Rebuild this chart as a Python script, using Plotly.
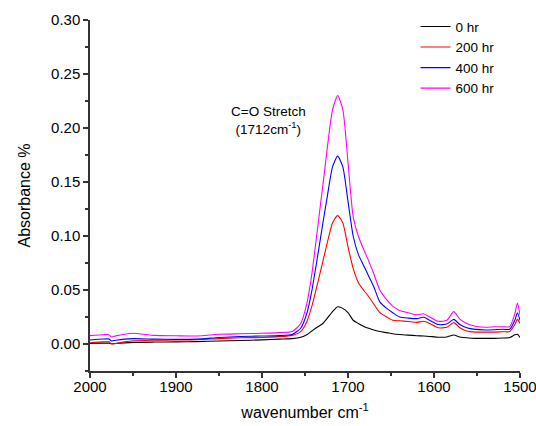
import plotly.graph_objects as go

wavenumber = [2000, 1985, 1978, 1975, 1970, 1960, 1950, 1925, 1900, 1875, 1850, 1825, 1800,
              1780, 1765, 1755, 1748, 1742, 1736, 1730, 1724, 1718, 1712, 1706, 1700, 1694,
              1688, 1682, 1676, 1670, 1663, 1655, 1648, 1640, 1630, 1620, 1612, 1605, 1595,
              1585, 1577, 1570, 1562, 1552, 1540, 1530, 1520, 1512, 1506, 1503, 1500]

hr0 = [0.0005, 0.0008, 0.0008, 0.0002, 0.0004, 0.0010, 0.0015, 0.0018, 0.0020, 0.0022, 0.0028, 0.0033, 0.0038,
       0.0045, 0.0050, 0.0062, 0.0085, 0.0120, 0.0155, 0.0185, 0.0240, 0.0300, 0.0345, 0.0330, 0.0290, 0.0220,
       0.0190, 0.0165, 0.0145, 0.0130, 0.0115, 0.0105, 0.0095, 0.0088, 0.0082, 0.0077, 0.0074, 0.0070, 0.0063,
       0.0065, 0.0083, 0.0065, 0.0058, 0.0052, 0.0052, 0.0052, 0.0055, 0.0060, 0.0085, 0.0090, 0.0060]

hr200 = [0.0012, 0.0020, 0.0020, 0.0002, 0.0005, 0.0020, 0.0030, 0.0035, 0.0037, 0.0040, 0.0050, 0.0058, 0.0060,
         0.0068, 0.0080, 0.0115, 0.0204, 0.0350, 0.0540, 0.0740, 0.0940, 0.1120, 0.1190, 0.1120, 0.0900, 0.0700,
         0.0570, 0.0500, 0.0440, 0.0370, 0.0290, 0.0250, 0.0220, 0.0215, 0.0208, 0.0200, 0.0210, 0.0190, 0.0150,
         0.0155, 0.0198, 0.0150, 0.0120, 0.0110, 0.0110, 0.0110, 0.0114, 0.0115, 0.0180, 0.0230, 0.0190]

hr400 = [0.0037, 0.0046, 0.0046, 0.0028, 0.0035, 0.0045, 0.0050, 0.0045, 0.0043, 0.0045, 0.0060, 0.0070, 0.0074,
         0.0078, 0.0088, 0.0146, 0.0280, 0.0495, 0.0780, 0.1080, 0.1370, 0.1640, 0.1740, 0.1640, 0.1320, 0.1000,
         0.0830, 0.0730, 0.0630, 0.0530, 0.0390, 0.0330, 0.0290, 0.0250, 0.0240, 0.0235, 0.0247, 0.0220, 0.0180,
         0.0185, 0.0228, 0.0180, 0.0150, 0.0135, 0.0130, 0.0132, 0.0136, 0.0136, 0.0220, 0.0290, 0.0220]

hr600 = [0.0078, 0.0086, 0.0086, 0.0065, 0.0075, 0.0090, 0.0099, 0.0080, 0.0076, 0.0074, 0.0090, 0.0095, 0.0099,
         0.0105, 0.0115, 0.0190, 0.0370, 0.0650, 0.1030, 0.1420, 0.1820, 0.2170, 0.2300, 0.2170, 0.1680, 0.1180,
         0.1000, 0.0880, 0.0770, 0.0650, 0.0500, 0.0410, 0.0350, 0.0310, 0.0290, 0.0270, 0.0280, 0.0250, 0.0210,
         0.0220, 0.0300, 0.0230, 0.0190, 0.0165, 0.0155, 0.0160, 0.0160, 0.0160, 0.0280, 0.0380, 0.0270]

series_names = ["0 hr", "200 hr", "400 hr", "600 hr"]
series_values = [hr0, hr200, hr400, hr600]
series_colors = ["#000000", "#FF0000", "#0000FF", "#FF00FF"]

FONT = "Arial, Liberation Sans, sans-serif"
AXC = "#333333"

fig = go.Figure()
for name, vals, col in zip(series_names, series_values, series_colors):
    fig.add_trace(go.Scatter(x=wavenumber, y=vals, mode="lines", name=name,
                             line=dict(color=col, width=1.1, shape="spline", smoothing=0.6)))

fig.update_layout(
    width=536, height=426,
    margin=dict(l=90, r=16, t=20, b=55, autoexpand=False),
    paper_bgcolor="white", plot_bgcolor="white",
    font=dict(family=FONT, color="#000000", size=15),
    showlegend=True,
    legend=dict(x=0.757, y=1.025, xanchor="left", yanchor="top",
                font=dict(size=13.5, family=FONT), bgcolor="rgba(0,0,0,0)",
                tracegroupgap=0, itemwidth=30),
    xaxis=dict(range=[2000, 1500], tick0=1500, dtick=100, showgrid=False, zeroline=False,
               automargin=False, ticklabeloverflow="allow",
               showline=True, linecolor=AXC, linewidth=1.5,
               ticks="outside", ticklen=5, tickwidth=1.5, tickcolor=AXC,
               tickfont=dict(size=15), ticklabelstandoff=-4,
               minor=dict(ticks="outside", ticklen=3, tickwidth=1.5, tickcolor=AXC, dtick=50, tick0=1500),
               title=dict(text="wavenumber cm<sup>-1</sup>", font=dict(size=16), standoff=13)),
    yaxis=dict(range=[-0.025, 0.30], tick0=0, dtick=0.05, tickformat=".2f", showgrid=False, zeroline=False,
               automargin=False, ticklabeloverflow="allow",
               showline=True, linecolor=AXC, linewidth=1.5,
               ticks="outside", ticklen=5, tickwidth=1.5, tickcolor=AXC,
               tickfont=dict(size=15),
               minor=dict(ticks="outside", ticklen=3, tickwidth=1.5, tickcolor=AXC, dtick=0.025, tick0=0),
               title=dict(text="Absorbance %", font=dict(size=16), standoff=16)),
)

fig.add_annotation(x=1792, y=0.2065, xref="x", yref="y", showarrow=False,
                   text="C=O Stretch<br>(1712cm<sup>-1</sup>)", font=dict(size=13.5, family=FONT),
                   align="center")

fig.write_html("out.html",
               config={"displayModeBar": False},
               post_script="document.body.style.margin='0';document.body.style.padding='0';"
                           "document.body.style.overflow='hidden';")
